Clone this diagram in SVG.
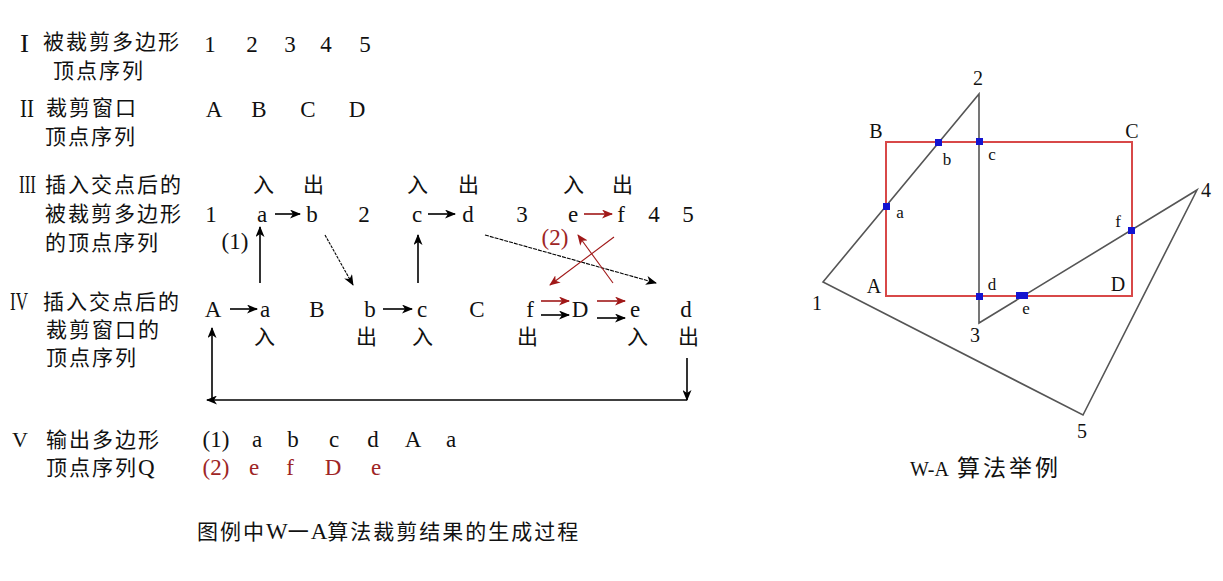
<svg xmlns="http://www.w3.org/2000/svg" width="1223" height="581" viewBox="0 0 1223 581">
<style>
.cjk{font-family:"Noto Sans CJK SC","Liberation Sans",sans-serif;font-size:21px;letter-spacing:2px;fill:#111}
.lat{font-family:"Liberation Serif","DejaVu Serif",serif;font-size:23px;fill:#111;text-anchor:middle;letter-spacing:0}
.rom{font-family:"Liberation Serif","DejaVu Serif",serif;font-size:25px;fill:#111}
.red{fill:#9e2525}
.ln{stroke:#000;stroke-width:1.6;fill:none}
.thin{stroke:#000;stroke-width:1.1;fill:none}
.rln{stroke:#a01818;stroke-width:1.6;fill:none}
.rthin{stroke:#a01818;stroke-width:1.1;fill:none}
.poly{stroke:#555;stroke-width:1.6;fill:none}
.win{stroke:#d84848;stroke-width:2;fill:none}
.pt{fill:#1414d0}
.lab{font-family:"Liberation Serif","DejaVu Serif",serif;font-size:20px;fill:#111;text-anchor:middle}
.labs{font-family:"Liberation Serif","DejaVu Serif",serif;font-size:17px;fill:#111;text-anchor:middle}
</style>
<defs>
<marker id="ah" markerWidth="11" markerHeight="9" refX="10" refY="4.5" orient="auto" markerUnits="userSpaceOnUse"><path d="M0,0 L11,4.5 L0,9 L3,4.5 Z" fill="#000"/></marker>
<marker id="ahr" markerWidth="11" markerHeight="9" refX="10" refY="4.5" orient="auto" markerUnits="userSpaceOnUse"><path d="M0,0 L11,4.5 L0,9 L3,4.5 Z" fill="#a01818"/></marker>
</defs>
<rect width="1223" height="581" fill="#fff"/>

<g id="row1">
<text class="rom" x="20" y="52" textLength="9" lengthAdjust="spacingAndGlyphs">I</text>
<text class="cjk" x="43" y="49">被裁剪多边形</text>
<text class="cjk" x="53" y="78">顶点序列</text>
<text class="lat" x="210" y="52">1</text>
<text class="lat" x="252" y="52">2</text>
<text class="lat" x="290" y="52">3</text>
<text class="lat" x="326" y="52">4</text>
<text class="lat" x="365" y="52">5</text>
</g>

<g id="row2">
<text class="rom" x="20" y="117" textLength="14" lengthAdjust="spacingAndGlyphs">II</text>
<text class="cjk" x="46" y="115">裁剪窗口</text>
<text class="cjk" x="45" y="144">顶点序列</text>
<text class="lat" x="214" y="117">A</text>
<text class="lat" x="259" y="117">B</text>
<text class="lat" x="308" y="117">C</text>
<text class="lat" x="357" y="117">D</text>
</g>

<g id="row3">
<text class="rom" x="19" y="193" textLength="17" lengthAdjust="spacingAndGlyphs">III</text>
<text class="cjk" x="45" y="192">插入交点后的</text>
<text class="cjk" x="45" y="221">被裁剪多边形</text>
<text class="cjk" x="45" y="250">的顶点序列</text>
<text class="cjk" x="253" y="192">入</text>
<text class="cjk" x="303" y="192">出</text>
<text class="cjk" x="407" y="192">入</text>
<text class="cjk" x="458" y="192">出</text>
<text class="cjk" x="563" y="192">入</text>
<text class="cjk" x="612" y="192">出</text>
<text class="lat" x="211" y="222">1</text>
<text class="lat" x="262" y="222">a</text>
<text class="lat" x="312" y="222">b</text>
<text class="lat" x="364" y="222">2</text>
<text class="lat" x="417" y="222">c</text>
<text class="lat" x="468" y="222">d</text>
<text class="lat" x="522" y="222">3</text>
<text class="lat" x="573" y="222">e</text>
<text class="lat" x="621" y="222">f</text>
<text class="lat" x="654" y="222">4</text>
<text class="lat" x="688" y="222">5</text>
<text class="lat" x="235" y="249" letter-spacing="2">(1)</text>
<text class="lat red" x="555" y="245" letter-spacing="2">(2)</text>
</g>

<g id="row4">
<text class="rom" x="10" y="310" textLength="18" lengthAdjust="spacingAndGlyphs">IV</text>
<text class="cjk" x="43" y="309">插入交点后的</text>
<text class="cjk" x="46" y="337">裁剪窗口的</text>
<text class="cjk" x="46" y="365">顶点序列</text>
<text class="lat" x="213" y="317">A</text>
<text class="lat" x="265" y="317">a</text>
<text class="lat" x="317" y="317">B</text>
<text class="lat" x="370" y="317">b</text>
<text class="lat" x="422" y="317">c</text>
<text class="lat" x="477" y="317">C</text>
<text class="lat" x="530" y="317">f</text>
<text class="lat" x="580" y="317">D</text>
<text class="lat" x="635" y="317">e</text>
<text class="lat" x="686" y="317">d</text>
<text class="cjk" x="254" y="344">入</text>
<text class="cjk" x="356" y="344">出</text>
<text class="cjk" x="412" y="344">入</text>
<text class="cjk" x="517" y="344">出</text>
<text class="cjk" x="627" y="344">入</text>
<text class="cjk" x="678" y="344">出</text>
</g>

<g id="row5">
<text class="rom" x="12" y="447" style="font-size:22px">V</text>
<text class="cjk" x="46" y="447">输出多边形</text>
<text class="cjk" x="46" y="475">顶点序列<tspan class="lat" style="text-anchor:start">Q</tspan></text>
<text class="lat" x="216" y="447" letter-spacing="2">(1)</text>
<text class="lat" x="257" y="447">a</text>
<text class="lat" x="293" y="447">b</text>
<text class="lat" x="334" y="447">c</text>
<text class="lat" x="373" y="447">d</text>
<text class="lat" x="413" y="447">A</text>
<text class="lat" x="451" y="447">a</text>
<text class="lat red" x="216" y="475" letter-spacing="2">(2)</text>
<text class="lat red" x="254" y="475">e</text>
<text class="lat red" x="290" y="475">f</text>
<text class="lat red" x="333" y="475">D</text>
<text class="lat red" x="376" y="475">e</text>
</g>

<g id="caption-left">
<text class="cjk" x="197" y="539">图例中<tspan class="lat" style="text-anchor:start">W</tspan>一<tspan class="lat" style="text-anchor:start">A</tspan>算法裁剪结果的生成过程</text>
</g>

<g id="connectors">
<line class="ln" x1="275" y1="214" x2="300" y2="214" marker-end="url(#ah)"/>
<line class="ln" x1="428" y1="214" x2="455" y2="214" marker-end="url(#ah)"/>
<line class="rln" x1="584" y1="214" x2="612" y2="214" marker-end="url(#ahr)"/>
<line class="ln" x1="260" y1="283" x2="260" y2="227" marker-end="url(#ah)"/>
<line class="ln" x1="418" y1="283" x2="418" y2="235" marker-end="url(#ah)"/>
<line class="thin" x1="325" y1="235" x2="353" y2="285" stroke-dasharray="3,1" marker-end="url(#ah)"/>
<line class="thin" x1="485" y1="235" x2="656" y2="283" stroke-dasharray="4,1" marker-end="url(#ah)"/>
<line class="rthin" x1="614" y1="237" x2="550" y2="285" marker-end="url(#ahr)"/>
<line class="rthin" x1="613" y1="283" x2="578" y2="235" marker-end="url(#ahr)"/>
<line class="ln" x1="230" y1="309" x2="257" y2="309" marker-end="url(#ah)"/>
<line class="ln" x1="383" y1="309" x2="412" y2="309" marker-end="url(#ah)"/>
<line class="rln" x1="541" y1="301" x2="569" y2="301" marker-end="url(#ahr)"/>
<line class="ln" x1="541" y1="315" x2="569" y2="315" marker-end="url(#ah)"/>
<line class="rln" x1="597" y1="301" x2="625" y2="301" marker-end="url(#ahr)"/>
<line class="ln" x1="597" y1="318" x2="625" y2="318" marker-end="url(#ah)"/>
<line class="ln" x1="687" y1="358" x2="687" y2="400" marker-end="url(#ah)"/>
<line class="ln" x1="687" y1="400" x2="207" y2="400" marker-end="url(#ah)"/>
<line class="ln" x1="212" y1="400" x2="212" y2="328" marker-end="url(#ah)"/>
</g>

<g id="wa-example">
<rect class="win" x="886" y="142" width="246" height="154"/>
<polygon class="poly" points="823,282 979,94 979,323 1197,190 1083,415"/>
<rect class="pt" x="883" y="203" width="7" height="7"/>
<rect class="pt" x="935" y="139" width="7" height="7"/>
<rect class="pt" x="976" y="138" width="7" height="7"/>
<rect class="pt" x="976" y="293" width="7" height="7"/>
<rect class="pt" x="1016" y="292" width="12" height="7"/>
<rect class="pt" x="1128" y="227" width="7" height="7"/>
<text class="lab" x="978" y="85">2</text>
<text class="lab" x="876" y="138">B</text>
<text class="lab" x="1132" y="138">C</text>
<text class="labs" x="947" y="165">b</text>
<text class="labs" x="992" y="160">c</text>
<text class="labs" x="900" y="218">a</text>
<text class="lab" x="1206" y="197">4</text>
<text class="labs" x="1118" y="227">f</text>
<text class="lab" x="874" y="293">A</text>
<text class="labs" x="992" y="290">d</text>
<text class="lab" x="1118" y="291">D</text>
<text class="lab" x="817" y="310">1</text>
<text class="labs" x="1026" y="314">e</text>
<text class="lab" x="975" y="342">3</text>
<text class="lab" x="1082" y="438">5</text>
<text class="cjk" x="910" y="476" style="font-size:23px;letter-spacing:3px"><tspan class="lat" style="text-anchor:start;font-size:20px">W-A</tspan> 算法举例</text>
</g>
</svg>
